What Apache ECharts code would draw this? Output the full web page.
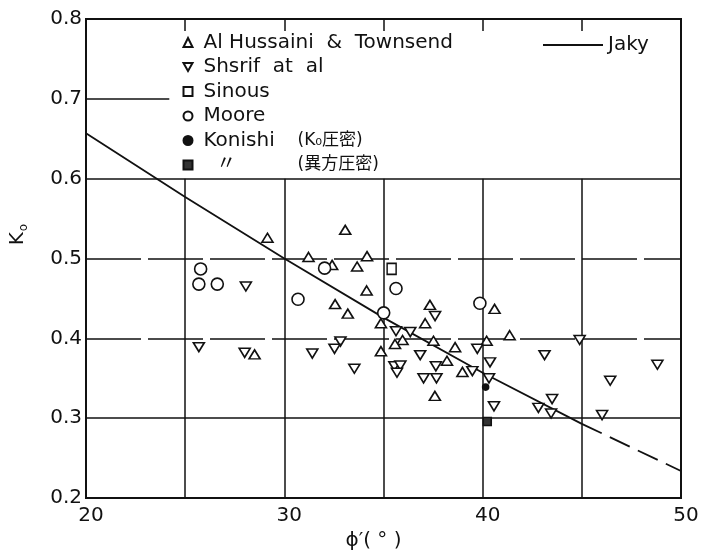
<!DOCTYPE html>
<html><head><meta charset="utf-8">
<script src="https://cdn.jsdelivr.net/npm/echarts@6/dist/echarts.min.js"></script>
<style>html,body{margin:0;padding:0;background:#fff}#c{width:703px;height:556px}</style>
</head><body><div id="c"></div>
<script>
// axis ticks / reference lines
const xTicks = [20, 30, 40, 50];
const yTicks = [0.2, 0.3, 0.4, 0.5, 0.6, 0.7, 0.8];
const vGridX = [25, 30, 35, 40, 45];      // vertical lines from 0.6 down to 0.2
const vGridTop = 0.6;
const hGridY = [0.3, 0.4, 0.5, 0.6];      // full-width horizontal lines
const shortGrid = [0.7, 24.2];            // short line at K0=0.7 from phi=20 to 24.2

// Jaky line
const jakyPhi = [20, 25, 30, 35, 40, 45];
const jakyK   = [0.657, 0.577, 0.500, 0.426, 0.357, 0.293];
const jakyDashPhi = [45, 50];
const jakyDashK   = [0.293, 0.234];

// data points [phi', K0]
const alHussaini = [[29.15,0.526],[31.22,0.502],[28.5,0.380],[33.07,0.536],[32.41,0.492],[34.17,0.503],
  [33.67,0.490],[34.15,0.460],[32.56,0.443],[33.2,0.431],[34.87,0.419],[40.6,0.437],[37.34,0.442],
  [37.1,0.419],[35.96,0.398],[35.58,0.393],[37.52,0.397],[41.36,0.404],[40.2,0.397],[38.61,0.389],
  [34.87,0.384],[38.2,0.372],[38.98,0.358],[37.59,0.328]];
const shsrif = [[28.06,0.465],[25.69,0.389],[28.0,0.382],[31.41,0.381],[37.6,0.428],[35.63,0.409],
  [36.35,0.408],[32.83,0.396],[32.53,0.387],[39.73,0.387],[36.85,0.379],[40.37,0.370],[33.53,0.362],
  [35.55,0.365],[35.85,0.366],[35.68,0.357],[37.64,0.365],[39.48,0.359],[37.02,0.350],[37.67,0.350],
  [40.32,0.350],[40.57,0.315],[44.89,0.398],[43.12,0.379],[48.81,0.367],[46.43,0.347],[43.5,0.324],
  [42.81,0.313],[43.45,0.306],[46.02,0.304]];
const sinous = [[35.41,0.487]];
const moore = [[25.78,0.487],[25.69,0.468],[26.62,0.468],[30.69,0.449],[32.03,0.488],[35.63,0.4625],
  [35.01,0.432],[39.86,0.444]];
const konishiK0 = [[40.15,0.339]];
const konishiAniso = [[40.23,0.296]];

const FONT = 'DejaVu Sans';
const INK = '#111';
const downTri = 'path://M0,0L2,0L1,1.732Z';

function pairs(xs, ys) { return xs.map((x, i) => [x, ys[i]]); }

const gridLines = [];
vGridX.forEach(x => gridLines.push([{coord: [x, vGridTop]}, {coord: [x, 0.2]}]));
hGridY.forEach(y => gridLines.push([{coord: [20, y], lineStyle: {type: (y === 0.4 || y === 0.5) ? [55, 7] : 'solid'}}, {coord: [50, y]}]));
gridLines.push([{coord: [20, shortGrid[0]]}, {coord: [shortGrid[1], shortGrid[0]]}]);

function scatter(name, data, symbol, size, fill, z) {
  return {
    name, type: 'scatter', data, symbol, symbolSize: size, z: z || 5,
    itemStyle: {color: fill, borderColor: INK, borderWidth: 1.6, opacity: 1},
    emphasis: {disabled: true}, animation: false
  };
}

const option = {
  backgroundColor: '#fff',
  animation: false,
  grid: {left: 84, right: 22, top: 19, bottom: 55, show: true, borderColor: INK, borderWidth: 2},
  xAxis: [{
    type: 'value', min: 20, max: 50, interval: 10, position: 'bottom',
    axisLine: {show: true, lineStyle: {color: INK, width: 2}},
    axisTick: {show: false}, splitLine: {show: false},
    axisLabel: {fontSize: 20, fontFamily: FONT, color: INK, margin: 8, padding: [0, 0, 0, 10]},
    name: 'ϕ′( ° )', nameLocation: 'middle', nameGap: 30,
    nameTextStyle: {fontSize: 20, fontFamily: FONT, color: INK, padding: [0, 20, 0, 0]}
  }, {
    type: 'value', min: 20, max: 50, interval: 5, position: 'top',
    axisLine: {show: true, lineStyle: {color: INK, width: 2}},
    axisTick: {show: true, inside: true, length: 12, lineStyle: {color: INK, width: 1.5}},
    axisLabel: {show: false}, splitLine: {show: false}
  }],
  yAxis: [{
    type: 'value', min: 0.2, max: 0.8, interval: 0.1,
    axisLine: {show: true, lineStyle: {color: INK, width: 2}},
    axisTick: {show: false}, splitLine: {show: false},
    axisLabel: {fontSize: 20, fontFamily: FONT, color: INK, margin: 4, formatter: v => v.toFixed(1)},
    name: '{k|K}{s|o}', nameLocation: 'middle', nameGap: 56,
    nameTextStyle: {color: INK, padding: [0, 0, 0, 48],
      rich: {k: {fontSize: 20, fontFamily: FONT, color: INK, lineHeight: 24},
             s: {fontSize: 12, fontFamily: FONT, color: INK, lineHeight: 24, verticalAlign: 'bottom', padding: [6, 0, 0, 1]}}}
  }],
  legend: [{
    orient: 'vertical', left: 177.5, top: 27.5, itemWidth: 9, itemHeight: 9, itemGap: 4.5,
    selectedMode: false,
    data: ['Al Hussaini  &  Townsend', 'Shsrif  at  al', 'Sinous', 'Moore', 'Konishi', '〃'],
    formatter: name => name === 'Konishi' ? '{n|Konishi}{j|(K₀圧密)}'
      : name === '〃' ? '{n|  〃}{j|(異方圧密)}' : name,
    textStyle: {fontSize: 20, fontFamily: FONT, color: INK, lineHeight: 20, padding: [0, 0, 0, 6],
      rich: {n: {fontSize: 20, fontFamily: FONT + ', Noto Sans CJK JP', color: INK, width: 94, lineHeight: 20},
             j: {fontSize: 17, fontFamily: FONT + ', Noto Sans CJK JP', color: INK, lineHeight: 20}}}
  }, {
    left: 537, top: 30, itemWidth: 60, itemHeight: 10, selectedMode: false,
    data: ['Jaky'],
    itemStyle: {opacity: 0},
    textStyle: {fontSize: 20, fontFamily: FONT, color: INK}
  }],
  series: [
    {type: 'line', name: '_grid', data: [], silent: true, z: 1,
     markLine: {silent: true, symbol: ['none', 'none'], label: {show: false},
       lineStyle: {color: INK, width: 1.5, type: 'solid'}, emphasis: {disabled: true},
       animation: false, data: gridLines}},
    {name: 'Jaky', type: 'line', data: pairs(jakyPhi, jakyK), symbol: 'none', showSymbol: false,
     lineStyle: {color: INK, width: 1.8}, itemStyle: {color: INK}, z: 3, silent: true},
    {name: 'Jaky (extrapolated)', type: 'line', data: pairs(jakyDashPhi, jakyDashK), symbol: 'none', showSymbol: false,
     lineStyle: {color: INK, width: 1.8, type: [22, 9]}, itemStyle: {color: INK}, z: 3, silent: true},
    scatter('Al Hussaini  &  Townsend', alHussaini, 'triangle', [11, 9], '#fff'),
    scatter('Shsrif  at  al', shsrif, downTri, [11, 9], '#fff'),
    scatter('Sinous', sinous, 'rect', [9, 11], '#fff'),
    scatter('Moore', moore, 'circle', 12, '#fff'),
    scatter('Konishi', konishiK0, 'circle', 6, INK, 6),
    scatter('〃', konishiAniso, 'rect', 8, '#333', 6)
  ]
};

const chart = echarts.init(document.getElementById('c'), null, {renderer: 'canvas'});
chart.setOption(option);
</script>
</body></html>
